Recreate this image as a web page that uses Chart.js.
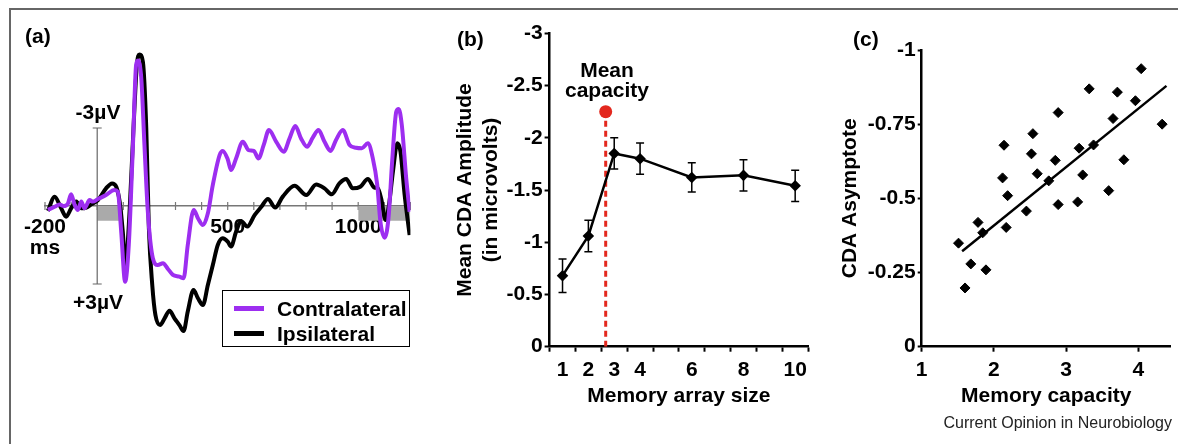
<!DOCTYPE html>
<html>
<head>
<meta charset="utf-8">
<script src="https://cdn.jsdelivr.net/npm/chart.js@4.4.0/dist/chart.umd.min.js"></script>
<style>
    body { margin: 0; background: #fff; }
    #fig { position: relative; width: 1178px; height: 444px; overflow: hidden; font-family: "Liberation Sans", Arial, sans-serif; }
    .layer { position: absolute; left: 0; top: 0; width: 1178px; height: 444px; }
    .frame { position: absolute; left: 9px; top: 8px; width: 1300px; height: 600px; border-top: 2px solid #666; border-left: 2px solid #666; }
    .lbl { position: absolute; font-weight: bold; font-size: 21px; line-height: 21px; white-space: nowrap; color: #000; }
    .ctr { transform: translate(-50%, -50%); }
    #legA { position: absolute; left: 222px; top: 290px; width: 186px; height: 55px; border: 1.5px solid #000; background: #fff; }
    .legRow { position: absolute; left: 0; font-weight: bold; font-size: 21px; line-height: 21px; white-space: nowrap; }
    .sw { position: absolute; left: 11px; top: 8px; width: 30px; height: 5px; }
    .legRow span.txt { position: absolute; left: 54px; top: 0; }
    #credit { position: absolute; right: 6px; top: 414px; font-size: 16px; line-height: 18px; color: #222; white-space: nowrap; }
</style>
</head>
<body>
<div id="fig">
    <div class="frame"></div>
    <div class="layer"><canvas id="chartA"></canvas></div>
    <div class="layer"><canvas id="chartB"></canvas></div>
    <div class="layer"><canvas id="chartC"></canvas></div>

    <div class="lbl" style="left:25px;top:25px;">(a)</div>
    <div class="lbl ctr" style="left:98px;top:111px;">-3µV</div>
    <div class="lbl ctr" style="left:98px;top:301px;">+3µV</div>
    <div id="legA">
        <div class="legRow" style="top:7px;"><span class="sw" style="background:#9d2ef0;"></span><span class="txt">Contralateral</span></div>
        <div class="legRow" style="top:32px;"><span class="sw" style="background:#000;"></span><span class="txt">Ipsilateral</span></div>
    </div>

    <div class="lbl" style="left:457px;top:28px;">(b)</div>
    <div class="lbl" style="left:607px;top:60px;transform:translateX(-50%);text-align:center;line-height:20px;">Mean<br>capacity</div>

    <div class="lbl" style="left:853px;top:28px;">(c)</div>
    <div id="credit">Current Opinion in Neurobiology</div>
</div>

<script>
// ---- panel (a): lateralized ERP waveforms ----
const contraMs = [-189, -163, -144, -129, -112, -100, -87, -74, -61, -49, -29, -17, 3, 34, 66, 79, 92, 107, 121, 137,
    149, 156, 169, 181, 194, 213, 232, 252, 271, 290, 315, 331, 347, 370, 386, 405, 424, 443, 469, 481,
    500, 513, 532, 558, 580, 600, 618, 638, 658, 686, 715, 737, 759, 781, 804, 826, 848, 871, 894, 915,
    941, 967, 992, 1014, 1037, 1056, 1073, 1085, 1101, 1116, 1130, 1146, 1155, 1167, 1184, 1197];
const contraUv = [0.15, 0.03, -0.06, 0.0, -0.1, -0.45, -0.06, 0.15, -0.17, 0.09, -0.23, -0.17, -0.27, -0.42, -0.62, -0.55, 0.99, 2.91, 1.5, -2.35,
    -5.42, -5.6, -4.9, -2.35, 0.22, 2.0, 2.27, 2.2, 2.42, 2.65, 2.72, 2.78, 1.5, 0.15, 0.47, 0.73, 0.28, -0.81, -1.96, -2.12,
    -1.8, -1.38, -1.83, -2.47, -2.15, -2.12, -1.83, -2.35, -2.92, -2.47, -2.09, -2.6, -3.08, -2.6, -2.28, -2.63, -2.92, -2.47, -2.12, -2.54,
    -2.92, -2.35, -2.24, -2.22, -2.41, -1.83, -0.81, 0.6, 1.22, 0.47, -1.7, -3.63, -3.73, -3.12, -1.06, 0.22];

const ipsiMs = [-189, -163, -138, -119, -100, -80, -61, -42, -23, 3, 34, 57, 73, 86, 98, 108, 124, 139, 152, 162,
    175, 188, 198, 211, 223, 241, 258, 277, 296, 315, 331, 347, 369, 386, 405, 424, 443, 462, 481, 500,
    513, 532, 551, 575, 603, 629, 654, 682, 711, 756, 801, 839, 871, 899, 928, 954, 979, 1008, 1037, 1062,
    1075, 1088, 1105, 1118, 1133, 1150, 1162, 1178, 1197];
const ipsiUv = [0.19, -0.36, 0.09, 0.41, 0.09, -0.17, 0.09, 0.06, -0.06, -0.23, -0.68, -0.87, -0.74, -0.17, 0.99, 2.3, 0.22, -2.99, -5.42, -5.83,
    -5.55, -2.99, 0.86, 3.04, 4.19, 4.58, 4.32, 4.03, 4.32, 4.58, 4.81, 4.06, 3.23, 3.55, 3.81, 3.04, 2.27, 1.5, 1.24, 1.37,
    1.56, 0.99, 0.58, 0.79, 0.35, 0.03, -0.27, 0.06, -0.36, -0.78, -0.42, -0.83, -0.68, -0.45, -0.87, -1.04, -0.68, -0.74, -1.04, -0.71,
    -0.68, -0.29, 0.54, -0.04, -1.32, -2.41, -2.09, -0.42, 1.12];

const stimWindowsMs = [[0, 100], [1000, 1200]];
const stimBarUv = 0.57;
const scaleBarUv = 3;
const timeLabels = { '-200': ['-200', 'ms'], '500': '500', '1000': '1000' };

// ---- panel (b): CDA amplitude by set size ----
const arraySizes = [1, 2, 3, 4, 6, 8, 10];
const cdaMean = [-0.68, -1.06, -1.85, -1.80, -1.62, -1.64, -1.54];
const cdaErr = [0.16, 0.15, 0.15, 0.15, 0.14, 0.15, 0.15];
const sizeTicks = [1, 2, 3, 4, 5, 6, 7, 8, 9, 10];
const meanCapacity = 2.67;
const meanCapacityMark = -2.25;

// ---- panel (c): asymptote vs capacity ----
const capX = [1.51, 1.60, 1.68, 1.78, 1.845, 1.89, 2.14, 2.12, 2.19, 2.17, 2.45, 2.54, 2.52, 2.60, 2.76,
    2.85, 2.89, 2.89, 3.16, 3.18, 3.23, 3.32, 3.38, 3.59, 3.65, 3.71, 3.80, 3.96, 4.04, 4.33];
const asymY = [-0.349, -0.198, -0.279, -0.419, -0.384, -0.259, -0.679, -0.569, -0.509, -0.402, -0.457, -0.718, -0.650, -0.583, -0.559,
    -0.628, -0.789, -0.479, -0.488, -0.669, -0.579, -0.869, -0.680, -0.526, -0.769, -0.858, -0.630, -0.829, -0.937, -0.750];
const fitX = [1.56, 4.39];
const fitY = [-0.322, -0.879];

const PURPLE = '#9d2ef0';
const RED = '#e3281e';
const boldFont = { size: 21, weight: 'bold', lineHeight: 1 };

Chart.defaults.font.family = '"Liberation Sans", Arial, sans-serif';
Chart.defaults.color = '#000';
Chart.defaults.animation = false;
Chart.defaults.plugins.legend.display = false;
Chart.defaults.plugins.tooltip.enabled = false;

function toPoints(xs, ys) {
    return xs.map((x, i) => ({ x: x, y: ys[i] }));
}

// tick marks that cross the zero line in panel (a)
const crossTicks = {
    id: 'crossTicks',
    beforeDatasetsDraw(chart) {
        const { ctx, scales: { x, y } } = chart;
        const y0 = y.getPixelForValue(0);
        ctx.save();
        ctx.strokeStyle = '#777';
        ctx.lineWidth = 1.2;
        x.ticks.forEach(t => {
            const px = x.getPixelForValue(t.value);
            ctx.beginPath();
            ctx.moveTo(px, y0 - 4);
            ctx.lineTo(px, y0 + 4);
            ctx.stroke();
        });
        ctx.restore();
    }
};

// vertical error bars for panel (b)
const errorBars = {
    id: 'errorBars',
    beforeDatasetsDraw(chart) {
        const { ctx, scales: { x, y } } = chart;
        ctx.save();
        ctx.strokeStyle = '#000';
        ctx.lineWidth = 1.5;
        arraySizes.forEach((s, i) => {
            const px = x.getPixelForValue(s);
            const top = y.getPixelForValue(cdaMean[i] - cdaErr[i]);
            const bot = y.getPixelForValue(cdaMean[i] + cdaErr[i]);
            ctx.beginPath();
            ctx.moveTo(px, top); ctx.lineTo(px, bot);
            ctx.moveTo(px - 4, top); ctx.lineTo(px + 4, top);
            ctx.moveTo(px - 4, bot); ctx.lineTo(px + 4, bot);
            ctx.stroke();
        });
        ctx.restore();
    }
};

function createWaveChart(ctx) {
    const stimSets = stimWindowsMs.map(w => ({
        data: [{ x: w[0], y: stimBarUv }, { x: w[1], y: stimBarUv }],
        borderWidth: 0,
        pointRadius: 0,
        fill: 'origin',
        backgroundColor: '#aaaaaa',
        order: 5
    }));
    return new Chart(ctx, {
        type: 'line',
        data: {
            datasets: [{
                label: 'Contralateral',
                data: toPoints(contraMs, contraUv),
                borderColor: PURPLE,
                borderWidth: 4,
                pointRadius: 0,
                cubicInterpolationMode: 'monotone',
                order: 0
            }, {
                label: 'Ipsilateral',
                data: toPoints(ipsiMs, ipsiUv),
                borderColor: '#000',
                borderWidth: 4,
                pointRadius: 0,
                cubicInterpolationMode: 'monotone',
                order: 1
            }, {
                data: [{ x: 0, y: -scaleBarUv }, { x: 0, y: scaleBarUv }],
                borderColor: '#666',
                borderWidth: 1.2,
                pointStyle: 'line',
                pointRadius: 4.5,
                pointBorderColor: '#666',
                pointBorderWidth: 1.2,
                order: 2
            }].concat(stimSets)
        },
        options: {
            responsive: true,
            maintainAspectRatio: false,
            layout: { padding: { left: 45, top: 39.6, right: 767.6, bottom: 92.4 } },
            scales: {
                x: {
                    type: 'linear',
                    min: -200,
                    max: 1200,
                    position: { y: 0 },
                    afterFit: s => { s.height = 0; },
                    grid: { drawOnChartArea: false, drawTicks: false },
                    border: { color: '#777', width: 1.5 },
                    ticks: {
                        stepSize: 100,
                        autoSkip: false,
                        maxRotation: 0,
                        minRotation: 0,
                        padding: 11.2,
                        font: boldFont,
                        callback: v => timeLabels[String(v)] || ''
                    }
                },
                y: { type: 'linear', min: -6.4, max: 5.6, reverse: true, display: false }
            }
        },
        plugins: [crossTicks]
    });
}

function createAmplitudeChart(ctx) {
    return new Chart(ctx, {
        type: 'line',
        data: {
            datasets: [{
                data: toPoints(arraySizes, cdaMean),
                borderColor: '#000',
                borderWidth: 2.5,
                pointStyle: 'rectRot',
                pointRadius: 4,
                pointBackgroundColor: '#000',
                pointBorderColor: '#000',
                order: 0
            }, {
                data: [{ x: meanCapacity, y: 0 }, { x: meanCapacity, y: meanCapacityMark }],
                borderColor: RED,
                borderWidth: 3,
                borderDash: [6, 4],
                pointRadius: [0, 6.5],
                pointBackgroundColor: RED,
                pointBorderWidth: 0,
                order: 1
            }]
        },
        options: {
            responsive: true,
            maintainAspectRatio: false,
            layout: { padding: { left: 451.6, top: 33.3, right: 369.9, bottom: 34.7 } },
            scales: {
                x: {
                    type: 'linear',
                    min: 0.5,
                    max: 10.5,
                    afterFit: s => { s.height = 62.6; },
                    afterBuildTicks: s => { s.ticks = sizeTicks.map(v => ({ value: v })); },
                    grid: { drawOnChartArea: false, offset: true, tickLength: 5, tickWidth: 2, tickColor: '#000' },
                    border: { color: '#000', width: 2.5 },
                    ticks: {
                        autoSkip: false,
                        maxRotation: 0,
                        minRotation: 0,
                        padding: 7.8,
                        font: boldFont,
                        callback: v => arraySizes.includes(v) ? String(v) : ''
                    },
                    title: { display: true, text: 'Memory array size', font: { size: 21, weight: 'bold', lineHeight: 1.2 }, padding: 0 }
                },
                y: {
                    type: 'linear',
                    min: -3,
                    max: 0,
                    reverse: true,
                    afterFit: s => { s.width = 98; },
                    grid: { drawOnChartArea: false, tickLength: 5, tickWidth: 2, tickColor: '#000' },
                    border: { color: '#000', width: 2.5 },
                    ticks: { stepSize: 0.5, padding: 2, font: boldFont, callback: v => String(v) },
                    title: { display: true, text: ['Mean CDA Amplitude', '(in microvolts)'], font: { size: 21, weight: 'bold', lineHeight: 1.27 }, padding: 0 }
                }
            }
        },
        plugins: [errorBars]
    });
}

function createAsymptoteChart(ctx) {
    return new Chart(ctx, {
        type: 'scatter',
        data: {
            datasets: [{
                data: toPoints(capX, asymY),
                pointStyle: 'rectRot',
                pointRadius: 5,
                pointBackgroundColor: '#000',
                pointBorderColor: '#000',
                order: 0
            }, {
                type: 'line',
                data: toPoints(fitX, fitY),
                borderColor: '#000',
                borderWidth: 2.5,
                pointRadius: 0,
                order: 1
            }]
        },
        options: {
            responsive: true,
            maintainAspectRatio: false,
            layout: { padding: { left: 837.4, top: 50, right: 7.2, bottom: 34.7 } },
            scales: {
                x: {
                    type: 'linear',
                    min: 1,
                    max: 4.45,
                    afterFit: s => { s.height = 62.6; },
                    grid: { drawOnChartArea: false, tickLength: 5, tickWidth: 2, tickColor: '#000' },
                    border: { color: '#000', width: 2.5 },
                    ticks: {
                        stepSize: 1,
                        includeBounds: false,
                        autoSkip: false,
                        maxRotation: 0,
                        padding: 7.8,
                        font: boldFont,
                        callback: v => String(v)
                    },
                    title: { display: true, text: 'Memory capacity', font: { size: 21, weight: 'bold', lineHeight: 1.2 }, padding: 0 }
                },
                y: {
                    type: 'linear',
                    min: -1,
                    max: 0,
                    reverse: true,
                    afterFit: s => { s.width = 84.3; },
                    grid: { drawOnChartArea: false, tickLength: 4, tickWidth: 2, tickColor: '#000' },
                    border: { color: '#000', width: 2.5 },
                    ticks: { stepSize: 0.25, padding: 2, font: boldFont, callback: v => String(v) },
                    title: { display: true, text: 'CDA Asymptote', font: { size: 21, weight: 'bold', lineHeight: 1.2 }, padding: 0 }
                }
            }
        }
    });
}

document.addEventListener('DOMContentLoaded', function () {
    createWaveChart(document.getElementById('chartA').getContext('2d'));
    createAmplitudeChart(document.getElementById('chartB').getContext('2d'));
    createAsymptoteChart(document.getElementById('chartC').getContext('2d'));
});
</script>
</body>
</html>
